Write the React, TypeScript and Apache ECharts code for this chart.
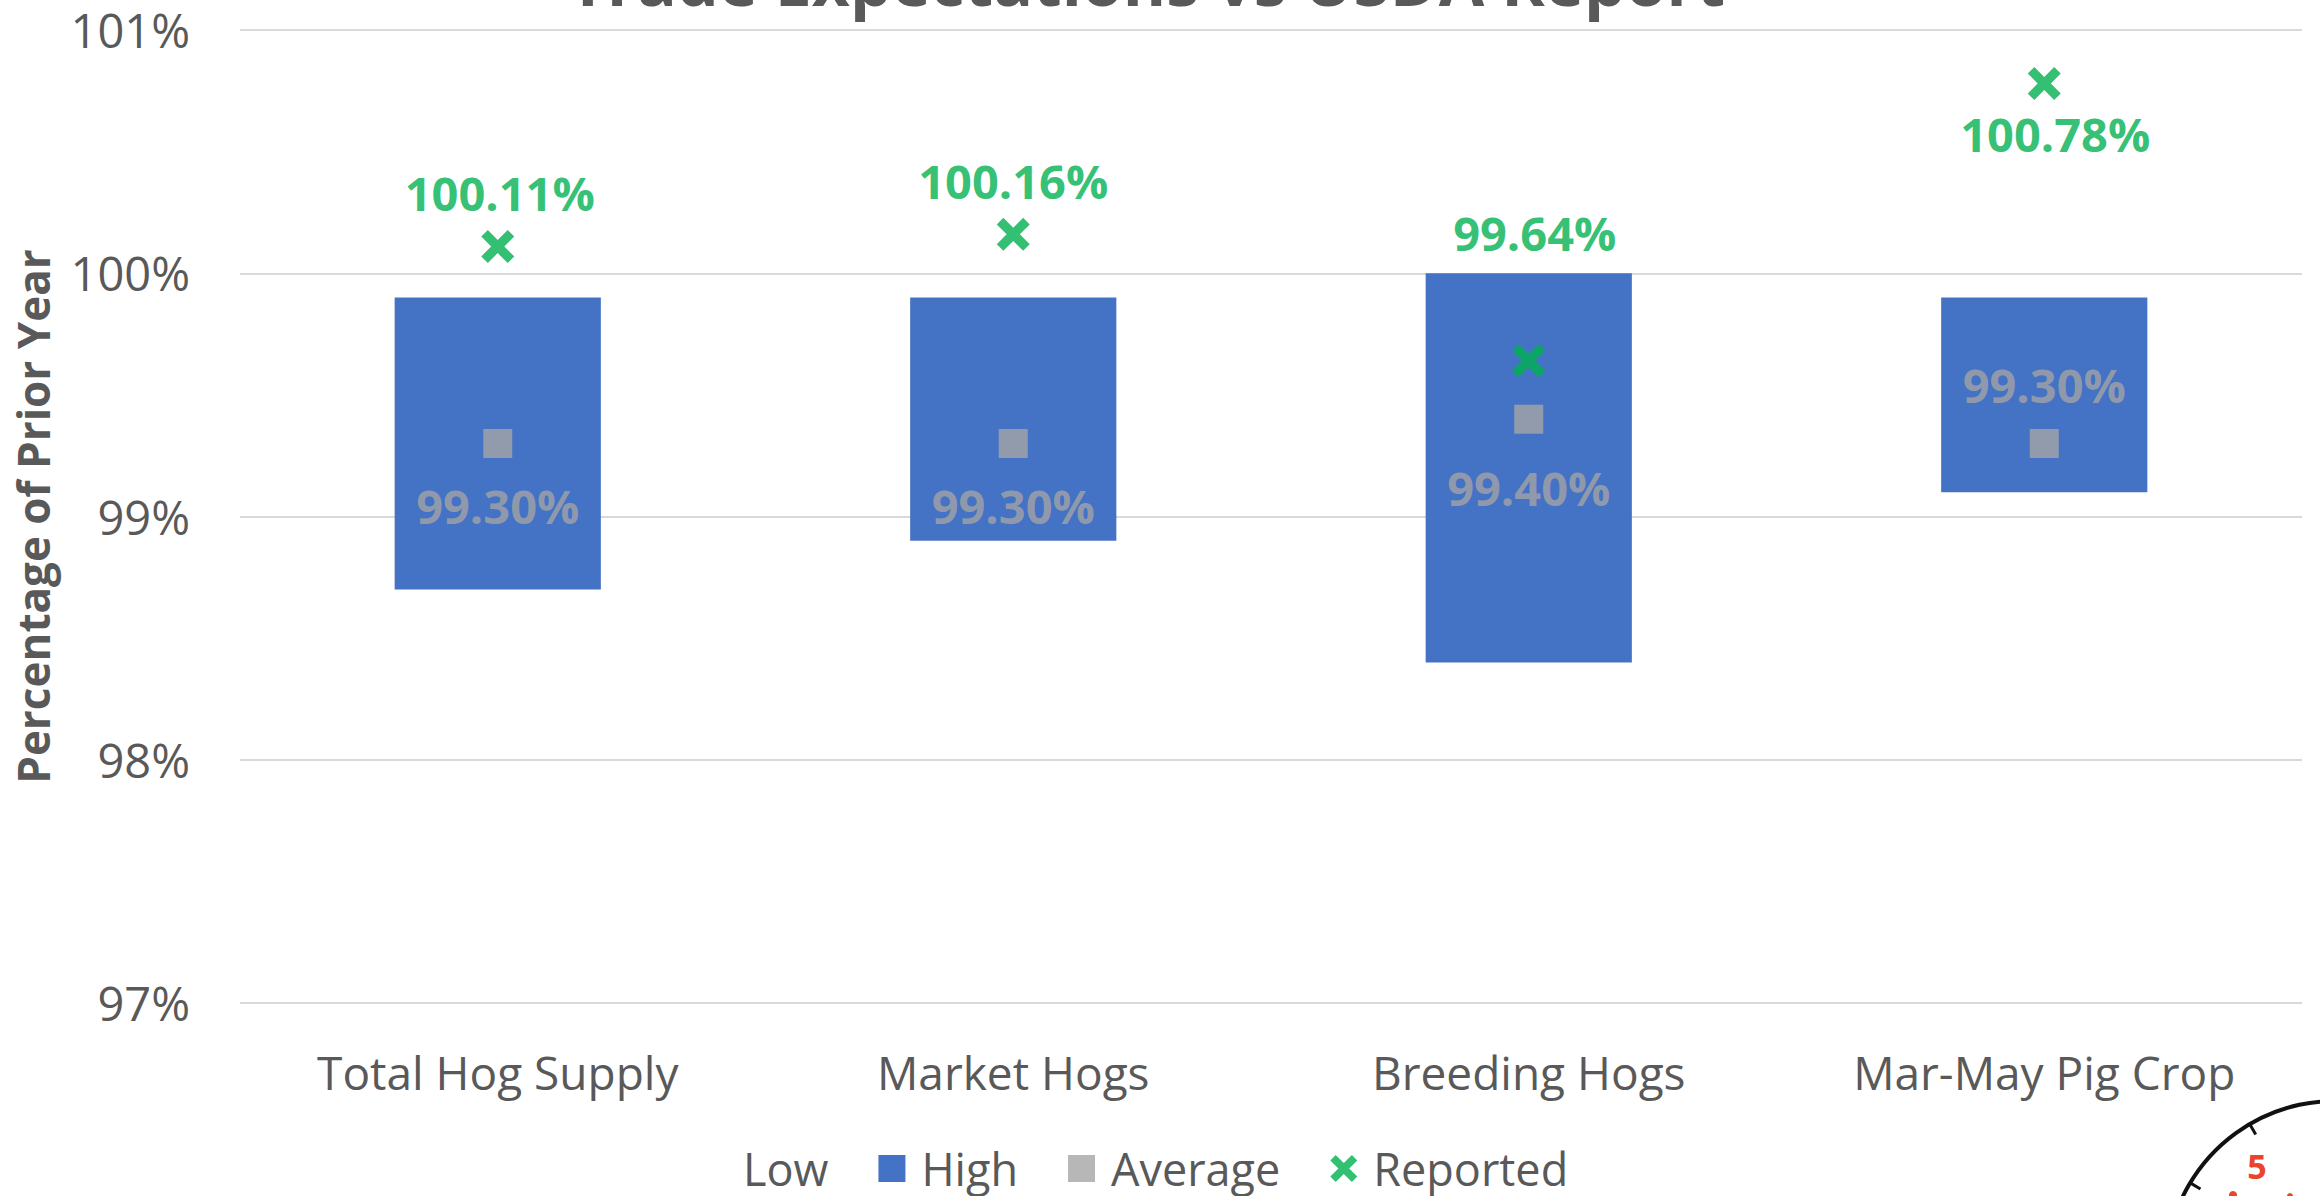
import React, { useEffect, useRef } from "react";
import * as echarts from "echarts";

const categories = ["Total Hog Supply", "Market Hogs", "Breeding Hogs", "Mar-May Pig Crop"];
const lowValues = [98.7, 98.9, 98.4, 99.1];
const highValues = [99.9, 99.9, 100.0, 99.9];
const averageValues = [99.3, 99.3, 99.4, 99.3];
const reportedValues = [100.11, 100.16, 99.64, 100.78];
const yTicks = [97, 98, 99, 100, 101];

const averageLabelOffsets = [[0, 62], [0, 62], [0, 69], [0, -59]];
const reportedLabelOffsets = [[2, -53], [0, -53], [6, -128], [11, 50]];

const FONT = "'Open Sans', 'Noto Sans', sans-serif";
const TEXT = "#595959";
const X_PATH =
  "path://M0,4 L4,0 L10,6 L16,0 L20,4 L14,10 L20,16 L16,20 L10,14 L4,20 L0,16 L6,10 Z";

export default function App() {
  const ref = useRef<HTMLDivElement>(null);
  useEffect(() => {
    document.body.style.margin = "0";
    const chart = echarts.init(ref.current!, null, { renderer: "svg" });
    const cx = 2335, cy = 1270, r = 169;
    const tickAngles = [-2.6, -2.1];
    const ticks = tickAngles.map((a) => ({
      type: "line",
      shape: {
        x1: cx + r * Math.cos(a), y1: cy + r * Math.sin(a),
        x2: cx + (r - 12) * Math.cos(a), y2: cy + (r - 12) * Math.sin(a),
      },
      style: { stroke: "#111", lineWidth: 3 },
    }));
    chart.setOption({
      animation: false,
      backgroundColor: "#ffffff",
      grid: { left: 240, right: 18, top: 30, bottom: 193, containLabel: false, outerBoundsMode: "none" },
      xAxis: {
        type: "category",
        data: categories,
        axisLine: { show: false },
        axisTick: { show: false },
        axisLabel: { color: TEXT, fontFamily: FONT, fontSize: 46, margin: 46 },
      },
      yAxis: {
        type: "value",
        min: yTicks[0],
        max: yTicks[yTicks.length - 1],
        interval: 1,
        name: "Percentage of Prior Year",
        nameLocation: "middle",
        nameRotate: 90,
        nameGap: 185,
        nameTextStyle: { color: TEXT, fontFamily: FONT, fontSize: 44, fontWeight: "bold" },
        axisLabel: {
          color: TEXT, fontFamily: FONT, fontSize: 47, margin: 50,
          formatter: (v: number) => `${v}%`,
        },
        splitLine: { lineStyle: { color: "#d9d9d9", width: 2 } },
      },
      legend: {
        left: 695,
        top: 1141,
        itemWidth: 27,
        itemHeight: 27,
        itemGap: 50,
        textStyle: { color: TEXT, fontFamily: FONT, fontSize: 45, padding: [0, 0, 0, 11] },
        data: [
          { name: "Low", icon: "rect" },
          { name: "High", icon: "rect" },
          { name: "Average", icon: "rect" },
          { name: "Reported", icon: X_PATH },
        ],
      },
      series: [
        {
          name: "Low",
          type: "bar",
          stack: "range",
          barWidth: "40%",
          itemStyle: { color: "transparent" },
          data: lowValues,
        },
        {
          name: "High",
          type: "bar",
          stack: "range",
          barWidth: "40%",
          itemStyle: { color: "#4472c4" },
          data: highValues.map((h, i) => +(h - lowValues[i]).toFixed(4)),
        },
        {
          name: "Average",
          type: "scatter",
          symbol: "rect",
          symbolSize: 29,
          itemStyle: { color: "#a5a5a5" },
          z: 5,
          data: averageValues.map((v, i) => ({
            value: v,
            label: {
              show: true,
              position: "inside",
              offset: averageLabelOffsets[i],
              formatter: () => `${v.toFixed(2)}%`,
              color: "#a5a5a5",
              fontFamily: FONT,
              fontWeight: "bold",
              fontSize: 47,
            },
          })),
        },
        {
          name: "Reported",
          type: "scatter",
          symbol: X_PATH,
          symbolSize: 33,
          itemStyle: { color: "#00b050" },
          z: 6,
          data: reportedValues.map((v, i) => ({
            value: v,
            label: {
              show: true,
              position: "inside",
              offset: reportedLabelOffsets[i],
              formatter: () => `${v.toFixed(2)}%`,
              color: "#00b050",
              fontFamily: FONT,
              fontWeight: "bold",
              fontSize: 47,
            },
          })),
        },
      ],
      graphic: [
        {
          type: "text",
          x: 1147,
          y: -20,
          style: {
            text: "Trade Expectations vs USDA Report",
            fill: TEXT,
            font: `bold 66px ${FONT}`,
            textAlign: "center",
            textVerticalAlign: "middle",
          },
        },
        {
          type: "arc",
          shape: { cx, cy, r, startAngle: -3.0, endAngle: -1.4 },
          style: { stroke: "#111", lineWidth: 4, fill: "none" },
        },
        ...ticks,
        {
          type: "text",
          x: 2257,
          y: 1166,
          style: {
            text: "5",
            fill: "#e8452c",
            font: `bold 34px ${FONT}`,
            textAlign: "center",
            textVerticalAlign: "middle",
          },
        },
        { type: "circle", shape: { cx: 2233, cy: 1195, r: 4 }, style: { fill: "#e8452c" } },
        { type: "circle", shape: { cx: 2290, cy: 1196, r: 3 }, style: { fill: "#e8452c" } },
      ],
    });
    return () => chart.dispose();
  }, []);
  return <div ref={ref} style={{ width: 2320, height: 1196 }} />;
}
